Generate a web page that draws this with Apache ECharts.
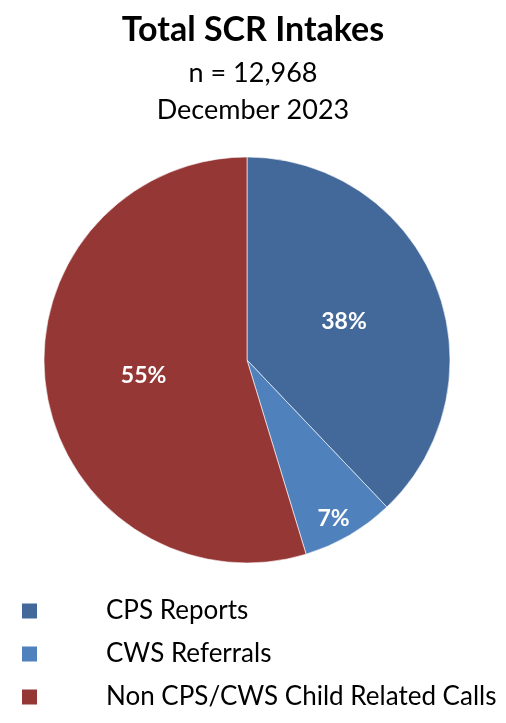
<!DOCTYPE html>
<html>
<head>
<meta charset="utf-8">
<script src="https://cdn.jsdelivr.net/npm/echarts@6/dist/echarts.min.js"></script>
<style>
    html, body { margin: 0; padding: 0; background: #fff; }
    #main { width: 506px; height: 723px; }
</style>
</head>
<body>
<div id="main"></div>
<script>
// 数据
var categories = ['CPS Reports', 'CWS Referrals', 'Non CPS/CWS Child Related Calls'];
var shares = [37.9, 7.4, 54.7]; // 百分比
var sliceColors = ['#43699B', '#4F81BD', '#953735'];

var chart = echarts.init(document.getElementById('main'));

var fontFamily = 'Lato, "Open Sans", sans-serif';

var option = {
    animation: false,
    color: sliceColors,
    title: [
        {
            text: 'Total SCR Intakes',
            left: 'center',
            top: 8,
            textStyle: { fontFamily: fontFamily, fontSize: 34, fontWeight: 'bold', color: '#000' }
        },
        {
            text: 'n = 12,968',
            left: 'center',
            top: 55,
            textStyle: { fontFamily: fontFamily, fontSize: 27, fontWeight: 'normal', color: '#000' }
        },
        {
            text: 'December 2023',
            left: 'center',
            top: 92,
            textStyle: { fontFamily: fontFamily, fontSize: 27, fontWeight: 'normal', color: '#000' }
        }
    ],
    legend: {
        orient: 'vertical',
        left: 15,
        top: 593,
        height: 130,
        icon: 'rect',
        itemWidth: 17,
        itemHeight: 17,
        itemGap: 17,
        data: categories,
        textStyle: {
            fontFamily: fontFamily,
            fontSize: 26,
            color: '#000',
            padding: [0, 0, 0, 63] // 文字与图标之间的间距
        }
    },
    series: [
        {
            type: 'pie',
            center: [247, 360],
            radius: 203,
            startAngle: 90,
            clockwise: true,
            silent: true,
            itemStyle: {
                borderColor: '#fff',
                borderWidth: 0.6
            },
            label: {
                show: true,
                position: 'inside',
                color: '#fff',
                fontFamily: fontFamily,
                fontSize: 23,
                fontWeight: 'bold',
                formatter: function (p) {
                    return Math.round(p.value) + '%';
                }
            },
            labelLine: { show: false },
            labelLayout: function (params) {
                // 小扇区的标签往外挪
                if (params.dataIndex === 1) {
                    return { dx: 34, dy: 68 };
                }
                return {};
            },
            data: categories.map(function (name, i) {
                return { name: name, value: shares[i] };
            })
        }
    ]
};

chart.setOption(option);
</script>
</body>
</html>
